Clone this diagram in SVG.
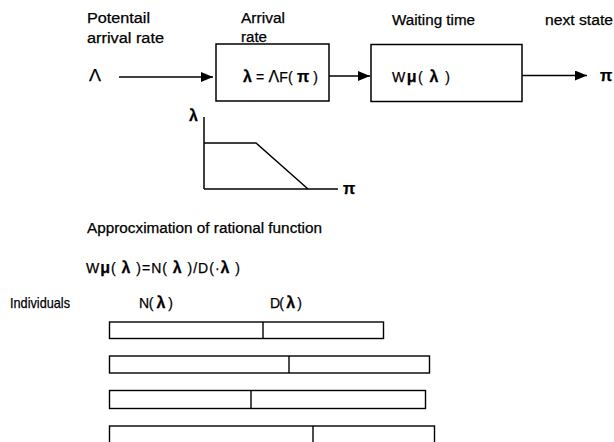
<svg xmlns="http://www.w3.org/2000/svg" width="614" height="442" viewBox="0 0 614 442">
  <defs>
    <marker id="arrow" viewBox="0 0 12 10" refX="12" refY="5" markerWidth="12" markerHeight="10" markerUnits="userSpaceOnUse" orient="auto">
      <path d="M0,0 L12,5 L0,10 Z" fill="#000"/>
    </marker>
    <style>
      text { font-family: "Liberation Sans", "Noto Sans CJK JP", sans-serif; font-size: 14px; fill: #000; stroke: #000; stroke-width: 0.25; }
      .greek { font-weight: bold; font-size: 16px; }
      .cap { font-size: 16px; }
      .box { fill: #fff; stroke: #000; stroke-width: 1.5; }
      .bar { fill: #fff; stroke: #000; stroke-width: 1.4; }
      .line { fill: none; stroke: #000; stroke-width: 1.5; }
      .edge { fill: none; stroke: #000; stroke-width: 1.4; marker-end: url(#arrow); }
    </style>
  </defs>

  <!-- heading labels -->
  <g id="labels">
    <text x="87" y="23" textLength="63" lengthAdjust="spacingAndGlyphs">Potentail</text>
    <text x="87" y="43" textLength="77" lengthAdjust="spacingAndGlyphs">arrival rate</text>
    <text x="241" y="23" textLength="44" lengthAdjust="spacingAndGlyphs">Arrival</text>
    <text x="241" y="42" textLength="26" lengthAdjust="spacingAndGlyphs">rate</text>
    <text x="392" y="25" textLength="83" lengthAdjust="spacingAndGlyphs">Waiting time</text>
    <text x="545" y="25" textLength="68" lengthAdjust="spacingAndGlyphs">next state</text>
    <text class="cap" x="89" y="81" textLength="12" lengthAdjust="spacingAndGlyphs">Λ</text>
    <text class="greek" x="600" y="81">π</text>
  </g>

  <!-- arrival rate block -->
  <g id="arrival">
    <rect class="box" x="216" y="44" width="113" height="57"/>
    <text x="243" y="82" textLength="75" lengthAdjust="spacing"><tspan class="greek">λ</tspan> = <tspan class="cap">Λ</tspan>F( <tspan class="greek">π</tspan> )</text>
  </g>

  <!-- waiting time block -->
  <g id="waiting">
    <rect class="box" x="371" y="44.5" width="151" height="57"/>
    <text x="392" y="82" textLength="58" lengthAdjust="spacing">W<tspan class="greek">μ</tspan>( <tspan class="greek">λ</tspan> )</text>
  </g>

  <!-- connectors -->
  <g id="connectors">
    <line class="edge" x1="119" y1="77" x2="213" y2="77"/>
    <line class="edge" x1="329" y1="76" x2="370" y2="76"/>
    <line class="edge" x1="522" y1="75.5" x2="587" y2="75.5"/>
  </g>

  <!-- arrival rate as a function of the state -->
  <g id="curve">
    <text class="greek" x="189" y="121">λ</text>
    <line class="line" x1="204" y1="117" x2="204" y2="189"/>
    <line class="line" x1="204" y1="189" x2="338" y2="189"/>
    <polyline class="line" points="204,143 256,143 308,189"/>
    <text class="greek" x="343" y="194">π</text>
  </g>

  <!-- rational approximation -->
  <g id="approximation">
    <text x="87" y="233" textLength="235" lengthAdjust="spacingAndGlyphs">Approcximation of rational function</text>
    <text x="86" y="273" textLength="154" lengthAdjust="spacing">W<tspan class="greek">μ</tspan>( <tspan class="greek">λ</tspan> )=N( <tspan class="greek">λ</tspan> )/D(·<tspan class="greek">λ</tspan> )</text>
    <text x="10" y="308" style="font-size:15px" textLength="60" lengthAdjust="spacingAndGlyphs">Individuals</text>
    <text x="139" y="308" textLength="34" lengthAdjust="spacing">N( <tspan class="greek">λ</tspan> )</text>
    <text x="270" y="308" textLength="32" lengthAdjust="spacing">D( <tspan class="greek">λ</tspan> )</text>
  </g>

  <!-- individuals: numerator / denominator split -->
  <g id="individual-1">
    <rect class="bar" x="109.5" y="322" width="274" height="16.5"/>
    <line class="bar" x1="263" y1="322" x2="263" y2="338.5"/>
  </g>
  <g id="individual-2">
    <rect class="bar" x="109.5" y="356" width="320" height="17"/>
    <line class="bar" x1="289" y1="356" x2="289" y2="373"/>
  </g>
  <g id="individual-3">
    <rect class="bar" x="109.5" y="390.5" width="316" height="18"/>
    <line class="bar" x1="251" y1="390.5" x2="251" y2="408.5"/>
  </g>
  <g id="individual-4">
    <rect class="bar" x="109.5" y="426" width="325" height="20"/>
    <line class="bar" x1="313" y1="426" x2="313" y2="446"/>
  </g>
</svg>
